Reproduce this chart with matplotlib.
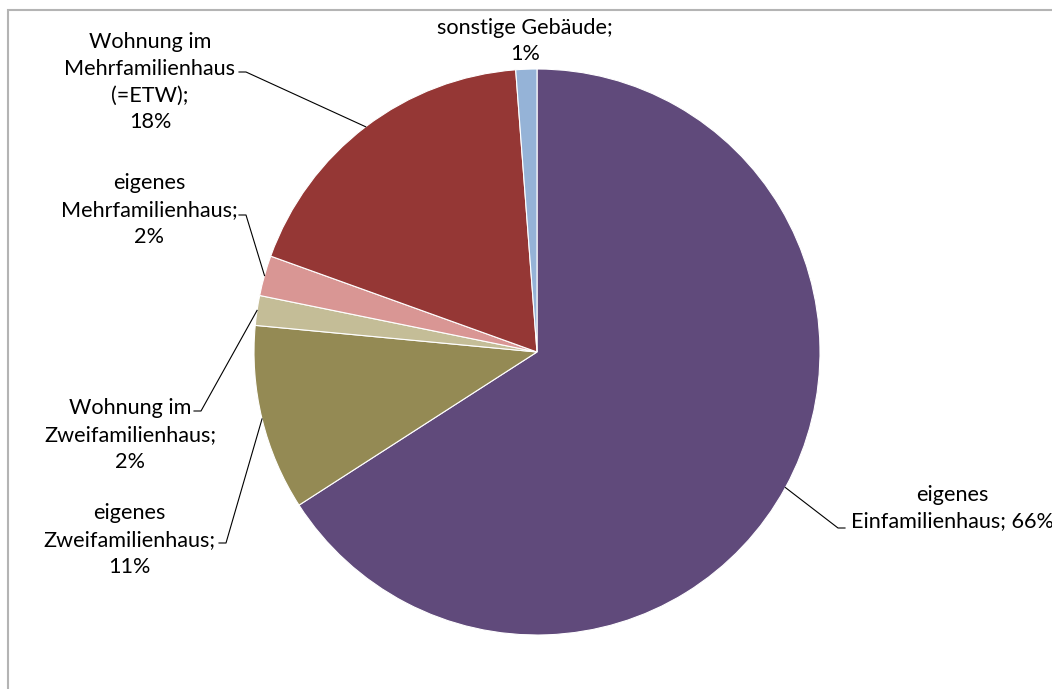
import numpy as np
import matplotlib.pyplot as plt
from matplotlib.patches import Rectangle

plt.rcParams['font.family'] = ['Lato', 'DejaVu Sans']

# Anteile nach Gebäudeart (im Uhrzeigersinn ab 12 Uhr)
labels = ['eigenes\nEinfamilienhaus', 'eigenes\nZweifamilienhaus',
          'Wohnung im\nZweifamilienhaus', 'eigenes\nMehrfamilienhaus',
          'Wohnung im\nMehrfamilienhaus\n(=ETW)', 'sonstige Gebäude']
werte = [65.9, 10.6, 1.7, 2.3, 18.3, 1.2]
farben = ['#604A7B', '#948A54', '#C4BD97', '#D99694', '#953735', '#95B3D7']

W, H = 1052, 689
fig = plt.figure(figsize=(W / 100, H / 100), dpi=100)
ax = fig.add_axes([0, 0, 1, 1])

cx, cy, r = 537, H - 352, 283
wedges, _ = ax.pie(werte, colors=farben, startangle=90, counterclock=False,
                   center=(cx, cy), radius=r, frame=True,
                   wedgeprops=dict(edgecolor='white', linewidth=0.8))
ax.set_xlim(0, W)
ax.set_ylim(0, H)
ax.set_aspect('equal')
ax.axis('off')

# Rahmen des Diagrammbereichs
ax.add_patch(Rectangle((8, -20), W + 40, H - 10 + 20, fill=False,
                       edgecolor='#B4B4B4', linewidth=1.5, clip_on=False))

# Beschriftung: Textmitte, Ansatzpunkt der Linie, Richtung des kurzen Strichs
pos = [
    ((952, H - 508), (845, H - 528), 1),
    ((129, H - 540), (219, H - 543), -1),
    ((130, H - 435), (194, H - 411), -1),
    ((149, H - 210), (239, H - 215), -1),
    ((150, H - 82), (239, H - 72), -1),
    ((525, H - 41), None, 0),
]

for w, lab, val, (tp, anker, d) in zip(wedges, labels, werte, pos):
    mitte = np.deg2rad((w.theta1 + w.theta2) / 2)
    px, py = cx + r * np.cos(mitte), cy + r * np.sin(mitte)
    if lab.startswith('eigenes\nEin'):
        txt = 'eigenes\nEinfamilienhaus; %d%%' % round(val)
    else:
        txt = '%s;\n%d%%' % (lab, round(val))
    ax.text(tp[0], tp[1], txt, ha='center', va='center', fontsize=15.6,
            linespacing=1.42, color='black')
    if anker is not None:
        ax.plot([anker[0], anker[0] - d * 7, px], [anker[1], anker[1], py],
                color='black', linewidth=0.8)

fig.savefig('out.png', dpi=100)
